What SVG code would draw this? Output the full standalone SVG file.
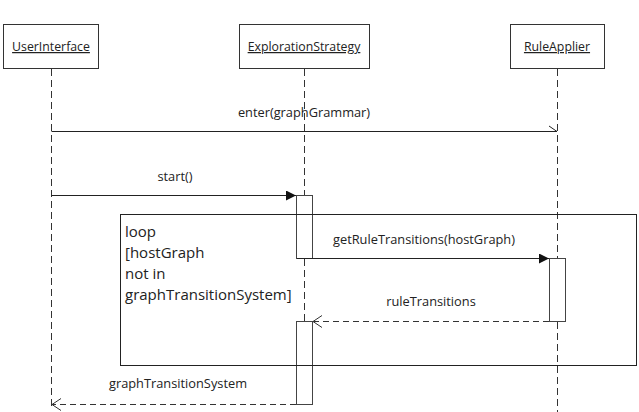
<svg xmlns="http://www.w3.org/2000/svg" width="639" height="412" viewBox="0 0 639 412">
<defs>
<style>
.box{fill:#fff;stroke:#333;stroke-width:1}
.life{stroke:#333;stroke-width:1;stroke-dasharray:7,4;fill:none}
.act{fill:#fff;stroke:#444;stroke-width:1}
.msg{stroke:#222;stroke-width:1;fill:none}
.ret{stroke:#333;stroke-width:1;stroke-dasharray:6,4;fill:none}
.t{font-family:"Open Sans","Liberation Sans",sans-serif;fill:#222}
.hd{font-size:12.3px;text-decoration:underline;text-anchor:middle}
.lb{font-size:12.8px;text-anchor:middle}
.lp{font-size:15px}
</style>
<marker id="filled" markerWidth="12" markerHeight="10" refX="10" refY="5" orient="auto" markerUnits="userSpaceOnUse">
<path d="M0,0 L10,5 L0,10 Z" fill="#111"/>
</marker>
<marker id="open" markerWidth="12" markerHeight="14" refX="10" refY="7" orient="auto" markerUnits="userSpaceOnUse">
<path d="M1,1 L10,7 L1,13" fill="none" stroke="#333" stroke-width="1"/>
</marker>
</defs>

<g id="UserInterface">
<rect class="box" x="3.5" y="24.5" width="95" height="44"/>
<text class="t hd" x="51" y="51">UserInterface</text>
<line class="life" x1="51.5" y1="69" x2="51.5" y2="410"/>
</g>

<g id="ExplorationStrategy">
<rect class="box" x="239.5" y="24.5" width="130" height="44"/>
<text class="t hd" x="304" y="51">ExplorationStrategy</text>
<line class="life" x1="304.5" y1="69" x2="304.5" y2="195"/>
<line class="life" x1="304.5" y1="259" x2="304.5" y2="321"/>
<rect class="act" x="296.5" y="195.5" width="16" height="63"/>
<rect class="act" x="296.5" y="321.5" width="16" height="83"/>
</g>

<g id="RuleApplier">
<rect class="box" x="510.5" y="24.5" width="94" height="44"/>
<text class="t hd" x="557" y="51">RuleApplier</text>
<line class="life" x1="557.5" y1="69" x2="557.5" y2="412"/>
<rect class="act" x="549.5" y="258.5" width="16" height="63"/>
</g>

<g id="loop">
<rect x="120.5" y="214.5" width="516" height="151" fill="none" stroke="#222" stroke-width="1"/>
<text class="t lp" x="125" y="237">loop</text>
<text class="t lp" x="125" y="258">[hostGraph</text>
<text class="t lp" x="125" y="279">not in</text>
<text class="t lp" x="125" y="300">graphTransitionSystem]</text>
</g>

<g id="connectors">
<line class="msg" x1="51.5" y1="131.5" x2="557" y2="131.5"/>
<line class="msg" x1="549" y1="126" x2="557" y2="131.5"/>
<text class="t lb" x="304" y="117">enter(graphGrammar)</text>

<line class="msg" x1="51.5" y1="195.5" x2="296" y2="195.5" marker-end="url(#filled)"/>
<text class="t lb" x="175" y="181">start()</text>

<line class="msg" x1="297" y1="258.5" x2="549" y2="258.5" marker-end="url(#filled)"/>
<text class="t lb" x="424" y="244">getRuleTransitions(hostGraph)</text>

<line class="ret" x1="549" y1="321.5" x2="313" y2="321.5" marker-end="url(#open)"/>
<text class="t lb" x="431" y="306">ruleTransitions</text>

<line class="ret" x1="296" y1="404.5" x2="52" y2="404.5" marker-end="url(#open)"/>
<text class="t lb" x="178" y="388">graphTransitionSystem</text>
</g>
</svg>
